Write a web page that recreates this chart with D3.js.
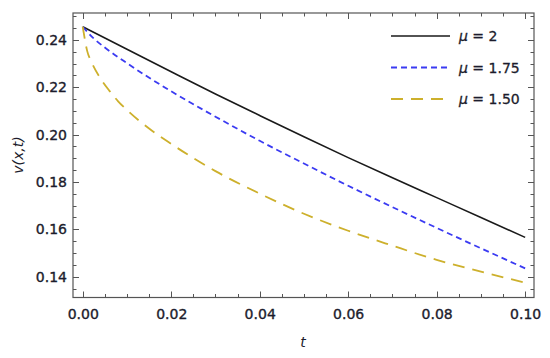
<!DOCTYPE html>
<html><head><meta charset="utf-8">
<script src="https://cdn.jsdelivr.net/npm/d3@7"></script>
<style>body{margin:0;background:#fff}svg{display:block}</style>
</head><body><svg id="c" width="550" height="358"></svg>
<script>
// data
const tBlack = [0, 0.01, 0.02, 0.03, 0.04, 0.05, 0.06, 0.07, 0.08, 0.09, 0.10];
const vBlack = [0.2456, 0.2361, 0.2266, 0.2172, 0.2081, 0.1991, 0.1903, 0.1818, 0.1734, 0.1650, 0.1566];
const tBlue = [0, 0.0025, 0.005, 0.01, 0.02, 0.03, 0.04, 0.05, 0.06, 0.07, 0.08, 0.09, 0.10];
const vBlue = [0.2456, 0.2406, 0.2368, 0.2302, 0.2183, 0.2076, 0.1974, 0.1878, 0.1784, 0.1694, 0.1606, 0.1520, 0.1435];
const tGold = [0, 0.001, 0.002, 0.004, 0.006, 0.008, 0.01, 0.015, 0.02, 0.03, 0.04, 0.05, 0.06, 0.07, 0.08, 0.09, 0.10];
const vGold = [0.2456, 0.2354, 0.2306, 0.2238, 0.2186, 0.2141, 0.2104, 0.2026, 0.1961, 0.1846, 0.1751, 0.1666, 0.1594, 0.1531, 0.1471, 0.1421, 0.1375];
const seriesNames = ["\u03bc = 2", "\u03bc = 1.75", "\u03bc = 1.50"];
const xTicks = [0, 0.02, 0.04, 0.06, 0.08, 0.10];
const yTicks = [0.14, 0.16, 0.18, 0.20, 0.22, 0.24];
const xLabel = "t";
const yLabel = "v(x,t)";

const svg = d3.select("#c");
const L = 73, R = 534, T = 13, B = 297.5;
const x = d3.scaleLinear().domain([-0.0022, 0.1020]).range([L, R]);
const y = d3.scaleLinear().domain([0.1312, 0.2514]).range([B, T]);

const series = [
  {t: tBlack, v: vBlack, color: "#1a1a1a", dash: null, w: 1.6, name: seriesNames[0]},
  {t: tBlue, v: vBlue, color: "#3b3bf2", dash: "6,4", w: 1.8, name: seriesNames[1]},
  {t: tGold, v: vGold, color: "#cdb02c", dash: "12,8", w: 1.8, name: seriesNames[2]}
];

const font = "'DejaVu Sans', sans-serif";
const frameColor = "#555555";
const textColor = "#1c1c2c";

// minor ticks
const xMinor = d3.range(0, 0.1001, 0.005);
const yMinor = d3.range(0.135, 0.2501, 0.005);
const g = svg.append("g");
function tk(x1, y1, x2, y2){ g.append("line").attr("x1",x1).attr("y1",y1).attr("x2",x2).attr("y2",y2).attr("stroke",frameColor).attr("stroke-width",1); }
xMinor.forEach(d => {
  const major = xTicks.some(m => Math.abs(m - d) < 1e-6);
  const len = major ? 6 : 3.5;
  const px = Math.round(x(d)) + 0.5;
  tk(px, B, px, B - len); tk(px, T, px, T + len);
});
yMinor.forEach(d => {
  const major = yTicks.some(m => Math.abs(m - d) < 1e-6);
  const len = major ? 6 : 3.5;
  const py = Math.round(y(d)) + 0.5;
  tk(L, py, L + len, py); tk(R, py, R - len, py);
});

// axes labels via d3 axes (ticks drawn above)
const xa = svg.append("g").attr("transform", `translate(0,${B})`)
  .call(d3.axisBottom(x).tickValues(xTicks).tickFormat(d3.format(".2f")).tickSize(0).tickPadding(11.5));
const ya = svg.append("g").attr("transform", `translate(${L},0)`)
  .call(d3.axisLeft(y).tickValues(yTicks).tickFormat(d3.format(".2f")).tickSize(0).tickPadding(6));
[xa, ya].forEach(a => {
  a.select(".domain").remove();
  a.selectAll("text").attr("font-family", font).attr("font-size", 14).attr("fill", textColor)
    .attr("stroke", textColor).attr("stroke-width", 0.35);
});

// frame
svg.append("rect").attr("x", L).attr("y", T).attr("width", R - L).attr("height", B - T)
  .attr("fill", "none").attr("stroke", frameColor).attr("stroke-width", 1.2);

// lines
const line = d3.line().curve(d3.curveMonotoneX);
series.forEach(s => {
  const pts = s.t.map((t, i) => [x(t), y(s.v[i])]);
  svg.append("path").attr("d", line(pts)).attr("fill", "none")
    .attr("stroke", s.color).attr("stroke-width", s.w)
    .attr("stroke-dasharray", s.dash);
});

// legend
const legY = [36, 67.5, 99];
series.forEach((s, i) => {
  svg.append("line").attr("x1", 391).attr("x2", 450).attr("y1", legY[i]).attr("y2", legY[i])
    .attr("stroke", s.color).attr("stroke-width", s.w).attr("stroke-dasharray", s.dash);
  const t = svg.append("text").attr("x", 459).attr("y", legY[i] + 5)
    .attr("font-family", font).attr("font-size", 14).attr("fill", textColor)
    .attr("stroke", textColor).attr("stroke-width", 0.3);
  t.append("tspan").attr("font-style", "italic").text(s.name.slice(0, 1));
  t.append("tspan").text(s.name.slice(1));
});

// axis titles
svg.append("text").attr("x", 303).attr("y", 347).attr("text-anchor", "middle")
  .attr("font-family", font).attr("font-size", 14).attr("font-style", "italic").attr("fill", textColor).text(xLabel);
svg.append("text").attr("transform", "translate(23,155) rotate(-90)").attr("text-anchor", "middle")
  .attr("font-family", font).attr("font-size", 14).attr("font-style", "italic").attr("fill", textColor).text(yLabel);
</script></body></html>
